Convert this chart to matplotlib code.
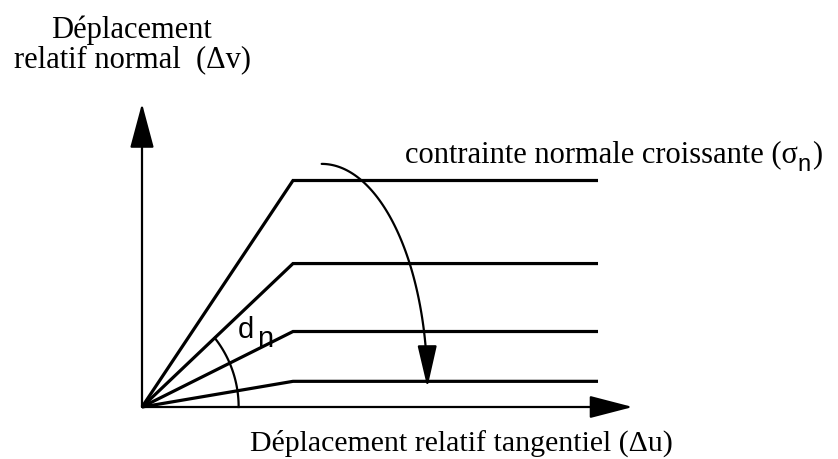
import numpy as np
import matplotlib.pyplot as plt
from matplotlib.patches import FancyArrowPatch
from matplotlib.path import Path

# plateau heights (abscissa of the kink = 1)
plateaux = [1.50, 0.95, 0.50, 0.17]
x_kink = 1.0
x_end = 3.02
x_axis_end = 3.25
y_axis_end = 2.01

# curved arrow "contrainte normale croissante": top start and bottom tip
arrow_start = (1.19, 1.61)
arrow_tip = (1.89, 0.13)

# arc marking the angle d_n
arc_center = (-0.10, 0.0)
arc_radius = 0.74

W, H = 838, 459
x0_px, y0_px, unit = 142, 407, 151

serif = 'Liberation Serif'
sans = 'Liberation Sans'

fig = plt.figure(figsize=(W / 100, H / 100), dpi=100)
ax = fig.add_axes([0, 0, 1, 1])
ax.set_xlim(-x0_px / unit, (W - x0_px) / unit)
ax.set_ylim(-(H - y0_px) / unit, y0_px / unit)
ax.axis('off')


def px(x, y):
    # pixel position -> figure fraction
    return x / W, 1 - y / H


# axes with arrow heads
ax.add_patch(FancyArrowPatch((0, 0), (x_axis_end, 0),
                             arrowstyle='-|>,head_length=27,head_width=7',
                             mutation_scale=1, lw=1.6, color='black',
                             shrinkA=0, shrinkB=0))
ax.add_patch(FancyArrowPatch((0, 0), (0, y_axis_end),
                             arrowstyle='-|>,head_length=28,head_width=7.5',
                             mutation_scale=1, lw=1.6, color='black',
                             shrinkA=0, shrinkB=0))

# the four curves
for y in plateaux:
    ax.plot([0, x_kink, x_end], [0, y, y], color='black', lw=2.3,
            solid_joinstyle='miter', solid_capstyle='butt')

# angle arc up to the second curve
cx, cy = arc_center
m = plateaux[1] / x_kink
a2 = 1 + m ** 2
xi = (cx + np.sqrt(cx ** 2 - a2 * (cx ** 2 - arc_radius ** 2))) / a2
th_end = np.arctan2(m * xi - cy, xi - cx)
th = np.linspace(0, th_end, 60)
ax.plot(cx + arc_radius * np.cos(th), cy + arc_radius * np.sin(th),
        color='black', lw=1.6)

# curved arrow (quarter ellipse)
ex, ey = arrow_start[0], arrow_tip[1]
ea = arrow_tip[0] - arrow_start[0]
eb = arrow_start[1] - arrow_tip[1]
t = np.linspace(np.pi / 2, 0, 80)
verts = np.column_stack([ex + ea * np.cos(t), ey + eb * np.sin(t)])
ax.add_patch(FancyArrowPatch(path=Path(verts),
                             arrowstyle='-|>,head_length=26,head_width=6',
                             mutation_scale=1, lw=1.6, color='black'))

# labels
fig.text(*px(131, 38), 'Déplacement', family=serif, size=22,
         ha='center', va='baseline')
fig.text(*px(132, 67), 'relatif normal  (\u0394v)', family=serif, size=22,
         ha='center', va='baseline')
fig.text(*px(250, 451), 'Déplacement relatif tangentiel (\u0394u)',
         family=serif, size=21.5, ha='left', va='baseline')

t1 = fig.text(*px(405, 162), 'contrainte normale croissante (\u03c3',
              family=serif, size=22, ha='left', va='baseline')
t2 = ax.annotate('n', xy=(1, 0), xycoords=t1, xytext=(0, -5),
                 textcoords='offset points', family=sans, size=17,
                 ha='left', va='bottom')
ax.annotate(')', xy=(1, 0), xycoords=(t2, t1), xytext=(1, 0),
            textcoords='offset points', family=serif, size=22,
            ha='left', va='bottom')

fig.text(*px(238, 338), 'd', family=sans, size=21, ha='left', va='baseline')
fig.text(*px(257, 347), 'n', family=sans, size=21, ha='left', va='baseline')

fig.savefig('out.png', dpi=100)
